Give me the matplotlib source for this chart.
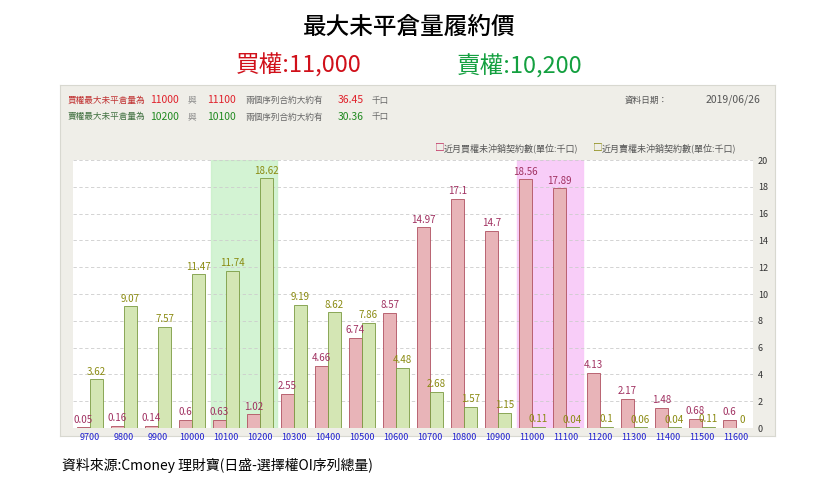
import numpy as np
import matplotlib.pyplot as plt
from matplotlib import font_manager

names = {f.name for f in font_manager.fontManager.ttflist}
cjk = [n for n in ['Noto Sans CJK TC', 'Noto Sans CJK JP', 'Noto Sans CJK SC', 'Noto Sans CJK KR'] if n in names]
plt.rcParams['font.family'] = cjk + ['DejaVu Sans']

strikes = [9700, 9800, 9900, 10000, 10100, 10200, 10300, 10400, 10500, 10600,
           10700, 10800, 10900, 11000, 11100, 11200, 11300, 11400, 11500, 11600]
calls = [0.05, 0.16, 0.14, 0.6, 0.63, 1.02, 2.55, 4.66, 6.74, 8.57,
         14.97, 17.1, 14.7, 18.56, 17.89, 4.13, 2.17, 1.48, 0.68, 0.6]
puts = [3.62, 9.07, 7.57, 11.47, 11.74, 18.62, 9.19, 8.62, 7.86, 4.48,
        2.68, 1.57, 1.15, 0.11, 0.04, 0.1, 0.06, 0.04, 0.11, 0]

W, H = 819, 486
fig = plt.figure(figsize=(W / 100, H / 100), dpi=100)

# titles
fig.text(0.5, 1 - 27 / H, '最大未平倉量履約價', ha='center', va='center', fontsize=17, fontweight='medium')
fig.text(0.365, 1 - 66 / H, '買權:11,000', ha='center', va='center', fontsize=17, color='#d0101a')
fig.text(0.635, 1 - 66 / H, '賣權:10,200', ha='center', va='center', fontsize=17, color='#14a040')

# gray panel
panel = fig.add_axes([60 / W, 1 - 436 / H, 715 / W, 351 / H])
panel.set_facecolor('#efeee8')
panel.set_xticks([]); panel.set_yticks([])
for s in panel.spines.values():
    s.set_color('#d8d8d0')

fs = 6.2
red, grn = '#e0202a', '#208a20'
rows = [(1 - 100 / H, '買權最大未平倉量為', '11000', '11100', '36.45', red, '#c03030'),
        (1 - 117 / H, '賣權最大未平倉量為', '10200', '10100', '30.36', grn, '#407040')]
for y, lab, a, b, v, c, lc in rows:
    fig.text(68 / W, y, lab, fontsize=fs, color=lc, va='center')
    fig.text(150 / W, y, a, fontsize=7.5, color=c, va='center')
    fig.text(188 / W, y, '與', fontsize=fs, color='#888888', va='center')
    fig.text(207 / W, y, b, fontsize=7.5, color=c, va='center')
    fig.text(245 / W, y, '兩個序列合約大約有', fontsize=fs, color='#666666', va='center')
    fig.text(338 / W, y, v, fontsize=7.5, color=c, va='center')
    fig.text(372 / W, y, '千口', fontsize=fs, color='#666666', va='center')
fig.text(625 / W, 1 - 100 / H, '資料日期：', fontsize=fs, color='#555555', va='center')
fig.text(706 / W, 1 - 100 / H, '2019/06/26', fontsize=7.5, color='#555555', va='center')

ax = fig.add_axes([73 / W, 1 - 428 / H, 680 / W, 268 / H])
ax.set_facecolor('white')
x = np.arange(len(strikes))
bw = 0.38
pink, pink_e = '#e8b4b8', '#b05060'
green, green_e = '#d4e6b4', '#7a9a40'
ax.axvspan(3.55, 5.5, color='#c8f0c8', alpha=0.8, zorder=0)
ax.axvspan(12.55, 14.5, color='#f8c8f8', alpha=0.9, zorder=0)
ax.bar(x - bw / 2, calls, bw, color=pink, edgecolor=pink_e, linewidth=0.6, zorder=2)
ax.bar(x + bw / 2, puts, bw, color=green, edgecolor=green_e, linewidth=0.6, zorder=2)
for i in x:
    ax.text(i - bw / 2, calls[i] + 0.2, f'{calls[i]:g}', ha='center', va='bottom',
            fontsize=7, color='#a03060', zorder=3)
    ax.text(i + bw / 2, puts[i] + 0.2, f'{puts[i]:g}', ha='center', va='bottom',
            fontsize=7, color='#8a8a10', zorder=3)
ax.set_xlim(-0.5, len(strikes) - 0.5)
ax.set_ylim(0, 20)
ax.set_xticks(x)
ax.set_xticklabels([str(s) for s in strikes], fontsize=6.5, color='#2020d0')
ax.yaxis.tick_right()
ax.set_yticks(range(0, 21, 2))
ax.tick_params(axis='y', labelsize=6.5, length=0, colors='#333333')
ax.tick_params(axis='x', length=0)
ax.grid(axis='y', linestyle=(0, (4, 3)), color='#cccccc', linewidth=0.6, zorder=1)
for s in ax.spines.values():
    s.set_visible(False)
ax.set_axisbelow(True)

# legend
fig.text(435 / W, 1 - 148 / H, '□', fontsize=7, color='#c03060', va='center')
fig.text(444 / W, 1 - 148 / H, '近月買權未沖銷契約數(單位:千口)', fontsize=6.5, color='#555555', va='center')
fig.text(593 / W, 1 - 148 / H, '□', fontsize=7, color='#8a8a10', va='center')
fig.text(602 / W, 1 - 148 / H, '近月賣權未沖銷契約數(單位:千口)', fontsize=6.5, color='#555555', va='center')

fig.text(62 / W, 1 - 465 / H, '資料來源:Cmoney 理財寶(日盛-選擇權OI序列總量)', fontsize=10, va='center')

fig.savefig('out.png', dpi=100)
